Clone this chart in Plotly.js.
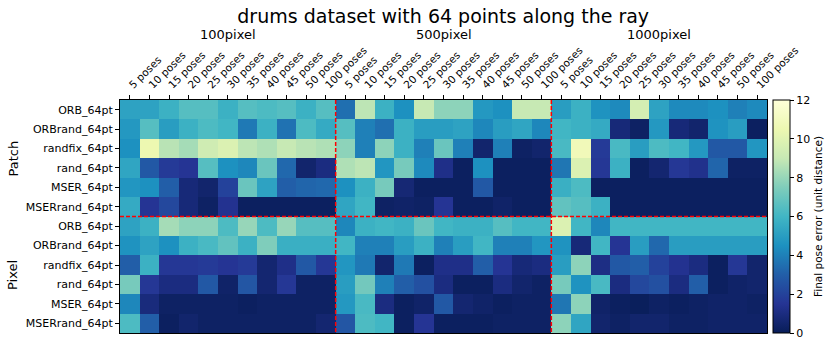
<!DOCTYPE html>
<html>
<head>
<meta charset="utf-8">
<script src="https://cdn.plot.ly/plotly-3.0.1.min.js"></script>
<style>
  body { margin: 0; background: #fff; }
  #plot { width: 830px; height: 348px; }
</style>
</head>
<body>
<div id="plot"></div>
<script>
// column labels, repeated for each resolution group
let poses = ['5 poses', '10 poses', '15 poses', '20 poses', '25 poses', '30 poses',
             '35 poses', '40 poses', '45 poses', '50 poses', '100 poses'];
let groups = ['100pixel', '500pixel', '1000pixel'];

// row labels (Patch rows first, then Pixel rows)
let methods = ['ORB_64pt', 'ORBrand_64pt', 'randfix_64pt', 'rand_64pt', 'MSER_64pt', 'MSERrand_64pt'];

// final pose error, one array per row: 100pixel | 500pixel | 1000pixel
let patchORB      = [5.2, 5.2, 5.8, 6.5, 6.5, 5.8, 6.5, 6.3, 6.5, 5.8, 6.5,   3.5, 8.8, 5.8, 4.5, 9.0, 7.8, 7.8, 4.8, 4.5, 9.0, 9.0,   5.0, 5.8, 4.6, 4.3, 9.5, 5.2, 4.3, 4.3, 4.5, 4.0, 4.3];
let patchORBrand  = [4.8, 6.5, 5.0, 5.8, 6.3, 6.0, 3.8, 5.8, 3.6, 6.3, 5.5,   6.5, 4.0, 3.5, 5.8, 5.0, 5.0, 5.2, 4.2, 5.0, 5.3, 4.2,   6.0, 5.8, 5.5, 0.8, 0.3, 4.8, 0.8, 0.5, 4.6, 5.0, 0.2];
let patchRandfix  = [4.5, 10.5, 8.7, 8.3, 9.3, 9.8, 8.8, 8.5, 9.0, 8.7, 8.5,  7.8, 4.0, 7.8, 5.8, 4.0, 7.0, 4.0, 0.5, 4.0, 0.3, 0.5,   6.2, 10.8, 1.7, 6.2, 5.0, 6.3, 6.0, 4.8, 2.8, 2.8, 4.7];
let patchRand     = [5.3, 2.8, 1.7, 1.5, 6.5, 4.5, 4.2, 7.0, 3.3, 0.5, 1.0,   8.5, 8.8, 4.7, 7.3, 4.3, 1.2, 0.2, 4.5, 0.2, 0.2, 0.2,   3.7, 9.8, 1.6, 5.8, 0.2, 0.6, 1.6, 1.3, 3.2, 0.3, 0.3];
let patchMSER     = [4.7, 4.5, 3.0, 0.8, 0.5, 2.0, 7.0, 5.2, 3.0, 3.2, 3.3,   4.5, 5.8, 7.3, 0.7, 0.2, 0.2, 0.2, 2.8, 0.2, 0.2, 0.2,   5.7, 6.3, 0.2, 0.2, 0.2, 0.2, 0.2, 0.2, 0.2, 0.2, 0.2];
let patchMSERrand = [5.5, 1.5, 2.2, 0.8, 0.3, 1.4, 0.2, 0.2, 0.2, 0.2, 0.2,   5.3, 6.0, 0.3, 0.4, 0.3, 1.5, 0.2, 0.2, 0.4, 0.2, 0.2,   6.8, 6.5, 5.8, 0.2, 0.2, 0.2, 0.2, 0.2, 0.2, 0.2, 0.2];
let pixelORB      = [5.2, 5.8, 8.3, 7.8, 7.8, 6.3, 8.0, 6.3, 8.0, 6.5, 6.5,   4.2, 5.8, 6.0, 5.8, 7.0, 6.0, 5.8, 5.8, 6.5, 6.0, 6.0,   9.8, 6.0, 4.2, 6.0, 6.0, 6.0, 6.0, 6.0, 6.0, 6.0, 6.0];
let pixelORBrand  = [4.6, 5.2, 4.5, 5.8, 6.2, 6.8, 5.8, 7.5, 5.7, 5.7, 5.7,   6.0, 4.0, 4.0, 5.0, 5.8, 4.0, 5.0, 6.0, 4.0, 4.0, 4.7,   4.6, 0.8, 6.0, 1.5, 5.0, 3.3, 5.0, 5.0, 5.0, 5.0, 5.0];
let pixelRandfix  = [3.0, 5.8, 1.6, 1.6, 1.7, 1.5, 1.7, 0.6, 1.2, 2.8, 1.6,   4.7, 3.8, 0.5, 3.8, 0.2, 1.2, 1.2, 3.0, 1.5, 0.8, 1.0,   5.0, 7.8, 1.1, 2.8, 3.0, 2.0, 1.4, 1.0, 0.2, 1.6, 0.5];
let pixelRand     = [7.3, 1.6, 1.0, 1.0, 2.8, 0.4, 2.7, 0.6, 1.6, 0.3, 0.3,   5.0, 7.2, 4.0, 3.0, 2.5, 1.0, 0.2, 0.2, 1.0, 0.5, 0.3,   7.3, 4.6, 6.2, 1.0, 2.2, 2.5, 1.0, 3.0, 0.2, 0.4, 0.5];
let pixelMSER     = [4.2, 0.9, 0.3, 0.3, 0.3, 0.3, 0.2, 0.3, 0.3, 0.3, 0.3,   4.8, 6.2, 1.0, 0.2, 0.4, 2.8, 0.6, 0.4, 0.2, 0.3, 0.3,   3.7, 7.8, 0.4, 0.2, 0.1, 0.3, 0.2, 0.3, 0.4, 0.4, 0.3];
let pixelMSERrand = [6.3, 3.0, 0.2, 0.5, 0.3, 0.3, 0.3, 0.3, 0.3, 0.3, 0.6,   2.7, 6.3, 6.0, 0.2, 1.5, 0.2, 0.2, 0.2, 0.3, 0.3, 0.3,   7.8, 5.3, 0.5, 0.3, 0.5, 0.5, 0.3, 0.3, 0.4, 0.4, 0.4];

let z = [patchORB, patchORBrand, patchRandfix, patchRand, patchMSER, patchMSERrand,
         pixelORB, pixelORBrand, pixelRandfix, pixelRand, pixelMSER, pixelMSERrand];

// x ticks: the pose labels, once per group
let xLabels = groups.flatMap(() => poses);
let xVals = xLabels.map((_, i) => i);
let yLabels = methods.concat(methods);
let yVals = yLabels.map((_, i) => i);

// matplotlib YlGnBu_r
let ylgnbu = [
  [0, '#081d58'], [0.125, '#253494'], [0.25, '#225ea8'], [0.375, '#1d91c0'],
  [0.5, '#41b6c4'], [0.625, '#7fcdbb'], [0.75, '#c7e9b4'], [0.875, '#edf8b1'], [1, '#ffffd9']
];

let trace = {
  type: 'heatmap',
  z: z,
  x: xVals,
  y: yVals,
  zmin: 0,
  zmax: 12,
  colorscale: ylgnbu,
  colorbar: {
    x: 1.009, xanchor: 'left', xpad: 0,
    y: 0, yanchor: 'bottom', len: 1, lenmode: 'fraction', ypad: 0,
    thickness: 17,
    outlinewidth: 1, outlinecolor: '#000',
    ticks: 'outside', ticklen: 4, tickcolor: '#000',
    tickvals: [0, 2, 4, 6, 8, 10, 12],
    tickfont: {size: 11, color: '#000'},
    title: {text: 'Final pose error (unit distance)', side: 'right', font: {size: 10.5, color: '#000'}}
  }
};

// red dashed separators between groups and between Patch/Pixel
let n = poses.length;
let dash = {color: '#ff0000', width: 1.5, dash: '4px,2px'};
let shapes = [
  {type: 'line', xref: 'x', yref: 'y', x0: n - 0.5, x1: n - 0.5, y0: -0.5, y1: 11.5, line: dash},
  {type: 'line', xref: 'x', yref: 'y', x0: 2 * n - 0.5, x1: 2 * n - 0.5, y0: -0.5, y1: 11.5, line: dash},
  {type: 'line', xref: 'x', yref: 'y', x0: -0.5, x1: 3 * n - 0.5, y0: 5.5, y1: 5.5, line: dash}
];

let annotations = groups.map((g, i) => ({
  text: g, xref: 'x', yref: 'paper', x: i * n + (n - 1) / 2, y: 1.283,
  xanchor: 'center', yanchor: 'middle', showarrow: false,
  font: {size: 13, color: '#000'}
}));
annotations.push(
  {text: 'Patch', xref: 'paper', yref: 'y', x: -0.165, y: 2.5, textangle: -90,
   xanchor: 'center', yanchor: 'middle', showarrow: false, font: {size: 13, color: '#000'}},
  {text: 'Pixel', xref: 'paper', yref: 'y', x: -0.165, y: 8.5, textangle: -90,
   xanchor: 'center', yanchor: 'middle', showarrow: false, font: {size: 13, color: '#000'}}
);

let layout = {
  width: 830,
  height: 348,
  margin: {l: 120, r: 63, t: 100, b: 15, autoexpand: false},
  paper_bgcolor: '#fff',
  plot_bgcolor: '#fff',
  font: {family: 'DejaVu Sans', color: '#000'},
  title: {text: 'drums dataset with 64 points along the ray', x: 0.534, xanchor: 'center',
          y: 0.953, yanchor: 'middle', font: {size: 19, color: '#000'}},
  xaxis: {
    side: 'top', range: [-0.5, 3 * n - 0.5],
    tickvals: xVals, ticktext: xLabels, tickangle: -45,
    tickfont: {size: 10.5}, ticks: 'outside', ticklen: 4, tickcolor: '#000',
    showline: true, linecolor: '#000', linewidth: 1, mirror: true,
    showgrid: false, zeroline: false
  },
  yaxis: {
    range: [11.5, -0.5],
    tickvals: yVals, ticktext: yLabels,
    tickfont: {size: 11}, ticks: 'outside', ticklen: 4, tickcolor: '#000',
    showline: true, linecolor: '#000', linewidth: 1, mirror: true,
    showgrid: false, zeroline: false
  },
  shapes: shapes,
  annotations: annotations
};

Plotly.newPlot('plot', [trace], layout, {displayModeBar: false});
</script>
</body>
</html>
